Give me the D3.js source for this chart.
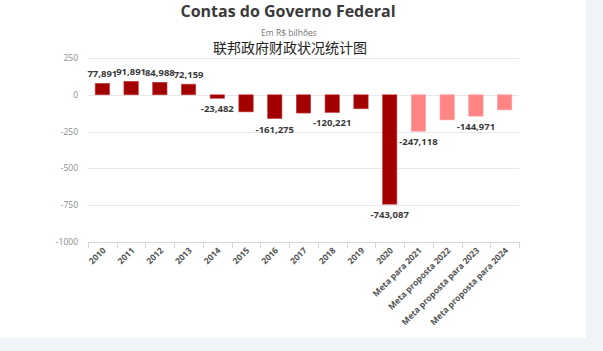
<!DOCTYPE html>
<html>
<head>
<meta charset="utf-8">
<script src="https://cdn.jsdelivr.net/npm/d3@7"></script>
<style>
  body { margin: 0; background: #f1f5f9; }
  svg { display: block; font-family: "Open Sans", "Noto Sans", sans-serif; }
</style>
</head>
<body>
<svg id="chart"></svg>
<script>
// data (R$ bilhões)
const categories = ['2010', '2011', '2012', '2013', '2014', '2015', '2016', '2017', '2018', '2019', '2020',
    'Meta para 2021', 'Meta proposta 2022', 'Meta proposta para 2023', 'Meta proposta para 2024'];
const values = [77.891, 91.891, 84.988, 72.159, -23.482, -116.0, -161.275, -124.0, -120.221, -95.0, -743.087,
    -247.118, -170.5, -144.971, -102.0];
const isMeta = [false, false, false, false, false, false, false, false, false, false, false, true, true, true, true];
const labelled = ['2010', '2011', '2012', '2013', '2014', '2016', '2018', '2020', 'Meta para 2021', 'Meta proposta para 2023'];
const yTicks = [250, 0, -250, -500, -750, -1000];

const width = 603, height = 351;
const svg = d3.select('#chart').attr('width', width).attr('height', height);

// white card with the chart, faint blue page behind it
svg.append('rect').attr('width', 586).attr('height', 338).attr('fill', '#ffffff');

const x = d3.scaleBand()
    .domain(categories)
    .range([88, 519])
    .paddingInner(0.5)
    .paddingOuter(0.25);

const y = d3.scaleLinear()
    .domain([-1000, 250])
    .range([242, 58]);

// Title
svg.append('text')
    .attr('x', 288).attr('y', 17)
    .attr('text-anchor', 'middle')
    .attr('font-size', '16px')
    .attr('font-weight', 'bold')
    .attr('fill', '#3a3a3a')
    .text('Contas do Governo Federal');

svg.append('text')
    .attr('x', 289).attr('y', 36)
    .attr('text-anchor', 'middle')
    .attr('font-size', '8.5px')
    .attr('fill', '#777')
    .text('Em R$ bilhões');

svg.append('text')
    .attr('x', 290).attr('y', 53)
    .attr('text-anchor', 'middle')
    .attr('font-size', '14px')
    .attr('fill', '#222')
    .style('font-family', '"Noto Sans CJK SC", sans-serif')
    .text('联邦政府财政状况统计图');

// Grid
svg.append('g')
    .selectAll('line')
    .data(yTicks.filter(d => d !== -1000))
    .join('line')
    .attr('x1', 88).attr('x2', 519)
    .attr('y1', d => Math.round(y(d)) + 0.5)
    .attr('y2', d => Math.round(y(d)) + 0.5)
    .attr('stroke', '#e8e8ec');

// Y axis labels
svg.append('g')
    .selectAll('text')
    .data(yTicks)
    .join('text')
    .attr('x', 78)
    .attr('y', d => y(d) + 3)
    .attr('text-anchor', 'end')
    .attr('font-size', '8.5px')
    .attr('fill', '#8a8a8a')
    .text(d => d);

// X axis
const xAxis = svg.append('g');
xAxis.append('line')
    .attr('x1', 88).attr('x2', 519)
    .attr('y1', 242.5).attr('y2', 242.5)
    .attr('stroke', '#d5d8e0');

const step = x.step();
xAxis.selectAll('line.tick')
    .data(d3.range(categories.length + 1))
    .join('line')
    .attr('class', 'tick')
    .attr('x1', i => Math.round(88 + i * step) + 0.5)
    .attr('x2', i => Math.round(88 + i * step) + 0.5)
    .attr('y1', 242).attr('y2', 248)
    .attr('stroke', '#d5d8e0');

xAxis.selectAll('text')
    .data(categories)
    .join('text')
    .attr('transform', d => `translate(${x(d) + x.bandwidth() / 2 + 4}, 251) rotate(-45)`)
    .attr('text-anchor', 'end')
    .attr('font-size', '8.5px')
    .attr('font-weight', 'bold')
    .attr('fill', '#555')
    .text(d => d);

// Bars
svg.append('g')
    .selectAll('rect')
    .data(categories)
    .join('rect')
    .attr('x', d => x(d))
    .attr('width', x.bandwidth())
    .attr('y', (d, i) => y(Math.max(0, values[i])))
    .attr('height', (d, i) => Math.abs(y(values[i]) - y(0)))
    .attr('fill', (d, i) => isMeta[i] ? '#ff8585' : '#a30000')
    .attr('stroke', (d, i) => isMeta[i] ? '#ffa0a0' : '#c84040')
    .attr('stroke-width', 0.6);

// Value labels, shown only where the original shows them
svg.append('g')
    .selectAll('text')
    .data(categories.filter(d => labelled.includes(d)))
    .join('text')
    .attr('x', d => x(d) + x.bandwidth() / 2)
    .attr('y', d => {
        const v = values[categories.indexOf(d)];
        return v >= 0 ? y(v) - 6 : y(v) + 14;
    })
    .attr('text-anchor', 'middle')
    .attr('font-size', '9.5px')
    .attr('font-weight', 'bold')
    .attr('fill', '#3a3a3a')
    .text(d => {
        const v = values[categories.indexOf(d)];
        return (v < 0 ? '-' : '') + Math.abs(v).toFixed(3).replace('.', ',');
    });
</script>
</body>
</html>
